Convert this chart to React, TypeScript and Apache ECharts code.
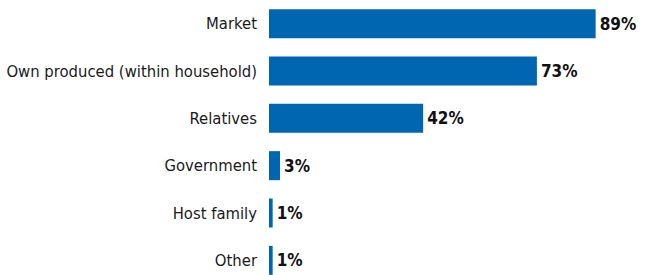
import React, { useEffect, useRef } from "react";
import * as echarts from "echarts";

const categories = [
  "Market",
  "Own produced (within household)",
  "Relatives",
  "Government",
  "Host family",
  "Other",
];
const values = [89, 73, 42, 3, 1, 1];

const FONT = "'DejaVu Sans Condensed', sans-serif";

export default function App() {
  const ref = useRef<HTMLDivElement>(null);
  useEffect(() => {
    document.body.style.margin = "0";
    const chart = echarts.init(ref.current!, null, { renderer: "svg" });
    chart.setOption({
      animation: false,
      grid: {
        left: 269,
        top: 0,
        width: 367,
        height: 284,
        containLabel: false,
        outerBoundsMode: "none",
      },
      xAxis: {
        type: "value",
        min: 0,
        max: 100,
        show: false,
      },
      yAxis: {
        type: "category",
        inverse: true,
        data: categories,
        axisLine: { show: false },
        axisTick: { show: false },
        splitLine: { show: false },
        axisLabel: {
          margin: 12,
          fontFamily: FONT,
          fontSize: 16.5,
          color: "#1a1a1a",
        },
      },
      series: [
        {
          type: "bar",
          data: values,
          barWidth: 29,
          itemStyle: { color: "#0066b2" },
          label: {
            show: true,
            position: "right",
            distance: 4,
            formatter: "{c}%",
            fontFamily: FONT,
            fontSize: 17,
            fontWeight: "bold",
            color: "#111111",
          },
        },
      ],
    });
    return () => chart.dispose();
  }, []);
  return <div ref={ref} style={{ width: 646, height: 275 }} />;
}
